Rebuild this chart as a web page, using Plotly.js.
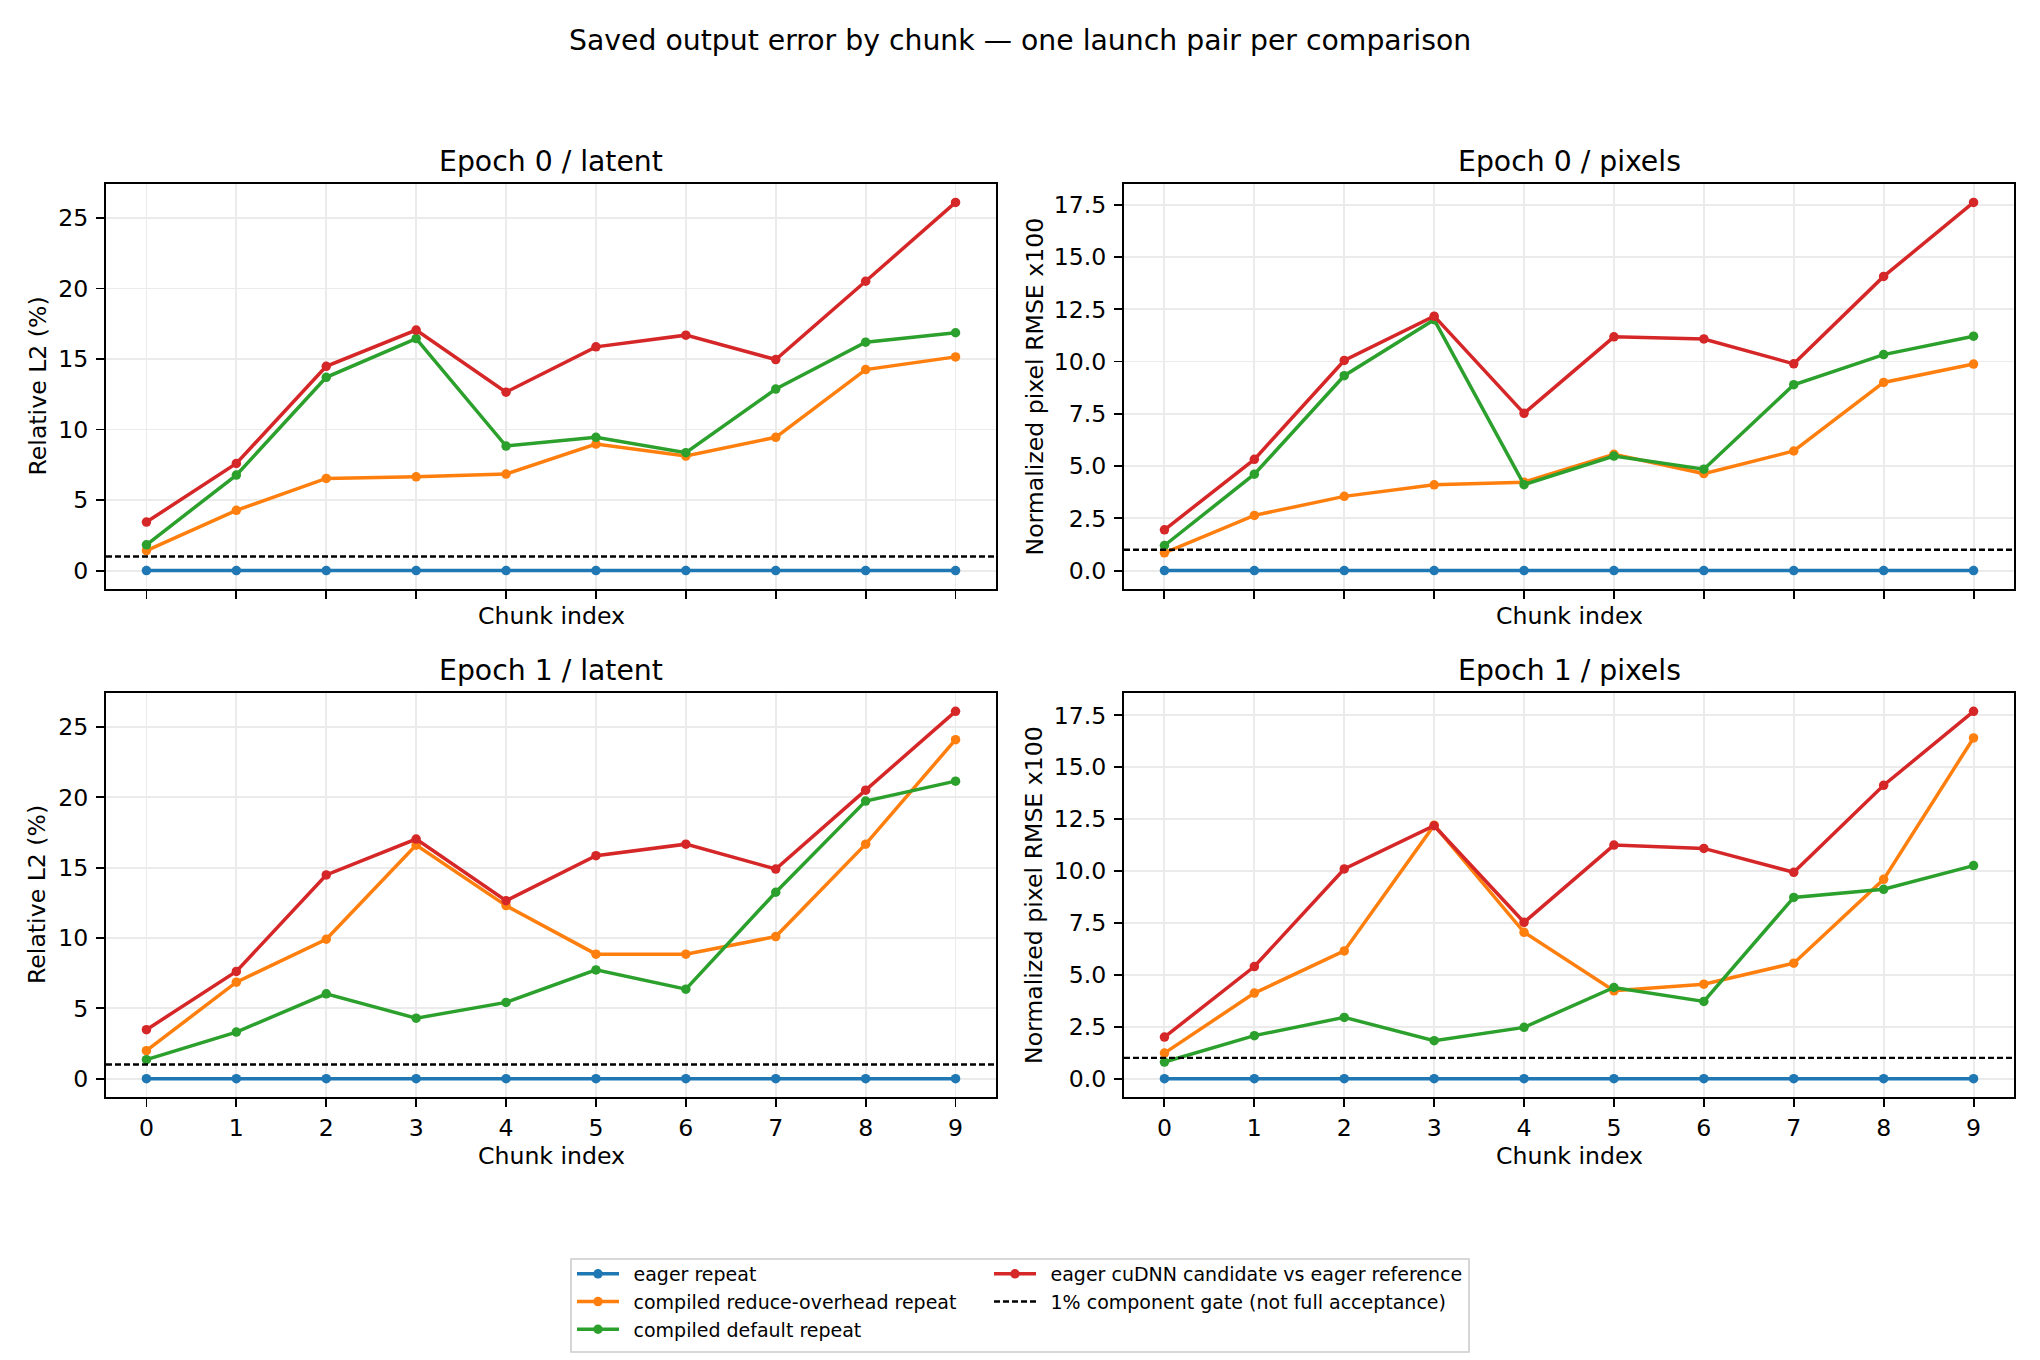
<!DOCTYPE html>
<html>
<head>
<meta charset="utf-8">
<script src="https://cdn.plot.ly/plotly-3.0.1.min.js"></script>
<style>html,body{margin:0;padding:0;background:#fff;}#chart{width:2040px;height:1360px;}</style>
</head>
<body>
<div id="chart"></div>
<script>
// ---------------- data ----------------
const chunks = [0, 1, 2, 3, 4, 5, 6, 7, 8, 9];
const seriesNames = [
  "eager repeat",
  "compiled reduce-overhead repeat",
  "compiled default repeat",
  "eager cuDNN candidate vs eager reference"
];
const gateName = "1% component gate (not full acceptance)";
const gateValue = 1.0;
const panelTitles = ["Epoch 0 / latent", "Epoch 0 / pixels", "Epoch 1 / latent", "Epoch 1 / pixels"];
const yLabels = ["Relative L2 (%)", "Normalized pixel RMSE x100", "Relative L2 (%)", "Normalized pixel RMSE x100"];
const xLabel = "Chunk index";
const suptitle = "Saved output error by chunk — one launch pair per comparison";

// Epoch 0 / latent
const e0LatentEager = [0, 0, 0, 0, 0, 0, 0, 0, 0, 0];
const e0LatentReduce = [1.42, 4.27, 6.53, 6.65, 6.84, 8.97, 8.12, 9.45, 14.25, 15.15];
const e0LatentDefault = [1.83, 6.77, 13.70, 16.45, 8.83, 9.45, 8.36, 12.87, 16.19, 16.86];
const e0LatentCudnn = [3.44, 7.60, 14.48, 17.05, 12.65, 15.86, 16.69, 14.96, 20.51, 26.10];
// Epoch 0 / pixels
const e0PixelEager = [0, 0, 0, 0, 0, 0, 0, 0, 0, 0];
const e0PixelReduce = [0.85, 2.64, 3.55, 4.10, 4.23, 5.56, 4.64, 5.72, 9.00, 9.88];
const e0PixelDefault = [1.20, 4.61, 9.32, 12.00, 4.11, 5.48, 4.85, 8.89, 10.33, 11.21];
const e0PixelCudnn = [1.95, 5.32, 10.05, 12.17, 7.52, 11.18, 11.08, 9.89, 14.07, 17.61];
// Epoch 1 / latent
const e1LatentEager = [0, 0, 0, 0, 0, 0, 0, 0, 0, 0];
const e1LatentReduce = [1.99, 6.86, 9.91, 16.60, 12.30, 8.85, 8.85, 10.10, 16.67, 24.10];
const e1LatentDefault = [1.35, 3.31, 6.03, 4.30, 5.42, 7.73, 6.36, 13.25, 19.73, 21.15];
const e1LatentCudnn = [3.48, 7.62, 14.48, 17.03, 12.65, 15.85, 16.67, 14.90, 20.51, 26.11];
// Epoch 1 / pixels
const e1PixelEager = [0, 0, 0, 0, 0, 0, 0, 0, 0, 0];
const e1PixelReduce = [1.23, 4.12, 6.15, 12.21, 7.05, 4.23, 4.55, 5.56, 9.60, 16.41];
const e1PixelDefault = [0.80, 2.07, 2.95, 1.83, 2.47, 4.39, 3.72, 8.73, 9.12, 10.26];
const e1PixelCudnn = [2.00, 5.40, 10.10, 12.18, 7.53, 11.25, 11.09, 9.94, 14.13, 17.69];

const colors = ["#1f77b4", "#ff7f0e", "#2ca02c", "#d62728"];

// ---------------- layout helpers ----------------
const W = 2040, H = 1360;
const fx = p => p / W;
const fy = p => 1 - p / H;
const colsPx = [[106, 996], [1124, 2014]];
const rowsPx = [[184, 589], [693, 1097]];
const FONT = "DejaVu Sans, Liberation Sans, sans-serif";
const TICK = 23.6, TITLE = 28.3, LEG = 19.0;
const LEG_PAD = "\u2002"; // small visual gap between legend symbol and label

const panels = [
  {data: [e0LatentEager, e0LatentReduce, e0LatentDefault, e0LatentCudnn], r: 0, c: 0, dtick: 5, fmt: "d"},
  {data: [e0PixelEager, e0PixelReduce, e0PixelDefault, e0PixelCudnn], r: 0, c: 1, dtick: 2.5, fmt: ".1f"},
  {data: [e1LatentEager, e1LatentReduce, e1LatentDefault, e1LatentCudnn], r: 1, c: 0, dtick: 5, fmt: "d"},
  {data: [e1PixelEager, e1PixelReduce, e1PixelDefault, e1PixelCudnn], r: 1, c: 1, dtick: 2.5, fmt: ".1f"}
];

const traces = [];
const layout = {
  width: W, height: H,
  margin: {l: 0, r: 0, t: 0, b: 0},
  paper_bgcolor: "#fff", plot_bgcolor: "#fff",
  font: {family: FONT, color: "#000", size: TICK},
  showlegend: true,
  annotations: [], shapes: []
};

const xmin = Math.min(...chunks), xmax = Math.max(...chunks);
const xpad = 0.05 * (xmax - xmin);
const legendRanks = [1, 3, 5, 2];
const legendIds = ["legend", "legend", "legend", "legend2"];

panels.forEach((p, i) => {
  const n = i + 1;
  const xa = n === 1 ? "x" : "x" + n;
  const ya = n === 1 ? "y" : "y" + n;
  const xKey = n === 1 ? "xaxis" : "xaxis" + n;
  const yKey = n === 1 ? "yaxis" : "yaxis" + n;
  const all = [].concat(...p.data, [gateValue]);
  const lo = Math.min(...all), hi = Math.max(...all);
  const pad = 0.05 * (hi - lo);
  const cx = colsPx[p.c], ry = rowsPx[p.r];
  const common = {
    showline: true, mirror: true, linecolor: "#000", linewidth: 1.9,
    ticks: "outside", ticklen: 8, tickwidth: 1.9, tickcolor: "#000",
    showgrid: true, gridcolor: "#ebebeb", gridwidth: 1.9, zeroline: false,
    tickfont: {family: FONT, size: TICK, color: "#000"},
    ticklabelstandoff: 3
  };
  layout[xKey] = Object.assign({}, common, {
    domain: [fx(cx[0]), fx(cx[1])], anchor: ya,
    range: [xmin - xpad, xmax + xpad],
    tickmode: "array", tickvals: chunks, ticktext: chunks.map(String),
    showticklabels: p.r === 1, ticklabelstandoff: 1
  });
  layout[yKey] = Object.assign({}, common, {
    domain: [fy(ry[1]), fy(ry[0])], anchor: xa,
    range: [lo - pad, hi + pad],
    tick0: 0, dtick: p.dtick, tickformat: p.fmt
  });
  p.data.forEach((vals, s) => {
    traces.push({
      type: "scatter", mode: "lines+markers",
      x: chunks, y: vals, xaxis: xa, yaxis: ya,
      name: LEG_PAD + seriesNames[s],
      line: {color: colors[s], width: 3.5},
      marker: {color: colors[s], size: 9.5},
      showlegend: i === 0,
      legend: legendIds[s],
      legendrank: legendRanks[s],
      legendgroup: "g" + s,
      hoverinfo: "skip"
    });
  });
  // gate line
  layout.shapes.push({
    type: "line", xref: xa + " domain", yref: ya,
    x0: 0, x1: 1, y0: gateValue, y1: gateValue,
    line: {color: "#000", width: 2.4, dash: "6px,3px"},
    name: LEG_PAD + gateName, showlegend: i === 0, legend: "legend2", legendrank: 4,
    legendgroup: "gate"
  });
  // panel title
  layout.annotations.push({
    text: panelTitles[i], xref: "paper", yref: "paper",
    x: fx((cx[0] + cx[1]) / 2), y: fy(p.r === 0 ? 161 : 670), xanchor: "center", yanchor: "middle",
    showarrow: false, font: {family: FONT, size: TITLE, color: "#000"}
  });
  // x label
  layout.annotations.push({
    text: xLabel, xref: "paper", yref: "paper",
    x: fx((cx[0] + cx[1]) / 2), y: fy(p.r === 0 ? 616 : 1156), xanchor: "center", yanchor: "middle",
    showarrow: false, font: {family: FONT, size: TICK, color: "#000"}
  });
  // y label
  layout.annotations.push({
    text: yLabels[i], xref: "paper", yref: "paper", textangle: -90,
    x: fx(p.c === 0 ? 37 : 1034), y: fy((ry[0] + ry[1]) / 2), xanchor: "center", yanchor: "middle",
    showarrow: false, font: {family: FONT, size: TICK, color: "#000"}
  });
});

// suptitle
layout.annotations.push({
  text: suptitle, xref: "paper", yref: "paper",
  x: 0.5, y: fy(40), xanchor: "center", yanchor: "middle",
  showarrow: false, font: {family: FONT, size: TITLE, color: "#000"}
});

// legend box
layout.shapes.push({
  type: "rect", xref: "paper", yref: "paper", layer: "below",
  x0: fx(571), x1: fx(1469), y0: fy(1352), y1: fy(1259),
  line: {color: "#cccccc", width: 1.6}, fillcolor: "rgba(255,255,255,0.8)"
});

const legendCommon = {
  orientation: "v", xanchor: "left", yanchor: "top",
  bgcolor: "rgba(0,0,0,0)", borderwidth: 0,
  font: {family: FONT, size: LEG, color: "#000"},
  traceorder: "grouped", tracegroupgap: 0, itemwidth: 42,
  itemclick: false, itemdoubleclick: false
};
layout.legend = Object.assign({}, legendCommon, {x: fx(572), y: fy(1255)});
layout.legend2 = Object.assign({}, legendCommon, {x: fx(989), y: fy(1255)});

Plotly.newPlot("chart", traces, layout, {staticPlot: true, displayModeBar: false});
</script>
</body>
</html>
